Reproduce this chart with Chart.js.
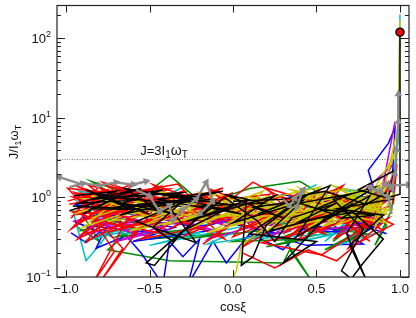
<!DOCTYPE html>
<html>
<head>
<meta charset="utf-8">
<script src="https://cdn.jsdelivr.net/npm/chart.js@4.4.1/dist/chart.umd.min.js"></script>
<style>
  body { margin: 0; background: #fff; }
  canvas { display: block; }
</style>
</head>
<body>
<canvas id="c" width="416" height="318"></canvas>
<script>
// axis ranges and ticks
const xRange = [-1.054, 1.054];
const yRange = [0.1, 260];
const xTicks = [-1.0, -0.5, 0.0, 0.5, 1.0];
const xTickLabels = ['\u22121.0', '\u22120.5', '0.0', '0.5', '1.0'];
const yDecades = [-1, 0, 1, 2];
const threshold = 3;

// trajectories as [cos xi, J/I1wT]
const redA = [[-0.98,0.82],[-0.62,1.12],[-0.93,0.48],[-0.38,1.28],[-0.86,1.18],[-0.27,0.64],[-0.74,0.37],[-0.16,0.88],[-0.96,1.02],[-0.5,0.43],[-0.06,1.32],[-0.63,0.56],[-0.83,0.09],[-0.71,0.21],[-0.91,0.9],[-0.33,1.48],[-0.13,0.53],[0.21,0.97],[-0.29,0.33],[0.12,1.56],[0.41,0.73],[0.04,0.39],[0.52,1.24],[0.31,0.36],[0.71,0.93],[0.44,0.51],[0.86,1.14],[0.61,0.31],[0.92,0.63],[0.53,0.19],[0.17,0.27],[0.77,0.56],[0.95,1.34],[0.81,0.41],[0.29,1.03],[-0.04,0.71],[-0.53,1.23],[-0.94,0.61],[-0.46,0.79],[-0.79,0.09],[-0.66,0.23],[-0.99,1.31],[-0.41,0.96],[-0.76,0.67],[-0.21,1.12],[0.09,0.59],[-0.31,0.49],[0.36,0.66],[0.66,1.42],[0.39,0.29],[0.84,0.76],[0.59,1.06],[0.96,0.46],[0.69,0.23],[0.89,0.91],[0.98,2.4],[0.96,0.82]];
const redB = [[-0.97,0.55],[-0.8,1.4],[-0.66,0.45],[-0.9,0.35],[-0.58,0.95],[-0.95,1.15],[-0.7,0.8],[-0.88,0.28],[-0.52,0.65],[-0.84,0.72],[-0.45,1.35],[-0.78,0.52],[-0.6,1.5],[-0.92,0.75],[-0.35,0.58],[-0.68,1.08],[-0.22,0.41],[-0.55,0.3],[-0.1,0.95],[-0.42,1.16],[0.02,0.5],[-0.18,0.26],[0.15,0.82],[-0.08,1.02],[0.28,0.45],[0.06,0.24],[0.38,1.1],[0.18,0.62],[0.55,0.35],[0.35,0.85],[0.72,0.62],[0.48,0.96],[0.82,0.28],[0.6,0.7],[0.9,1.22],[0.75,0.38],[0.93,0.55],[0.62,0.16],[0.45,0.22],[0.25,0.13],[0.06,0.2]];
const redC = [[-0.99,0.9],[-0.75,1.25],[-0.97,0.4],[-0.7,0.95],[-0.94,1.4],[-0.6,0.7],[-0.9,0.52],[-0.55,1.3],[-0.82,0.85],[-0.5,0.58],[-0.78,1.55],[-0.45,1.0],[-0.96,0.66],[-0.65,0.42],[-0.88,1.08],[-0.4,0.62],[-0.72,1.35],[-0.35,0.9],[-0.62,0.32],[-0.3,1.2],[-0.58,0.8],[-0.2,0.55],[-0.48,1.45],[-0.1,0.78],[-0.38,0.4],[0.0,1.15],[-0.26,0.68],[0.12,0.42],[-0.14,1.28],[0.26,0.6],[0.05,0.9],[0.4,0.48],[0.2,1.32],[0.55,0.8],[0.32,0.3],[0.68,1.05],[0.46,0.62],[0.8,0.5],[0.58,1.2],[0.9,0.38],[0.7,0.72],[0.95,0.95]];
const redD = [[-0.96,1.2],[-0.8,0.6],[-0.93,0.3],[-0.65,0.62],[-0.87,1.45],[-0.52,0.9],[-0.74,0.48],[-0.42,0.35],[-0.68,1.2],[-0.25,1.05],[-0.57,0.4],[-0.15,0.62],[-0.44,0.68],[-0.05,0.3],[-0.32,1.1],[0.08,0.66],[-0.2,0.85],[0.22,1.1],[0.0,0.32],[0.33,0.62],[0.12,1.05],[0.48,0.55],[0.26,0.82],[0.62,1.25],[0.42,0.36],[0.76,0.85],[0.52,1.0],[0.88,0.55],[0.66,0.48],[0.94,0.78]];
const yellowA = [[-0.95,0.62],[-0.7,0.9],[-0.9,0.42],[-0.55,0.75],[-0.85,1.05],[-0.48,0.55],[-0.2,0.88],[-0.62,0.38],[-0.05,0.68],[-0.35,1.05],[0.12,0.52],[-0.15,0.36],[0.25,0.94],[0.0,0.6],[0.42,0.78],[0.15,0.33],[0.55,1.15],[0.32,0.58],[0.7,0.82],[0.45,0.42],[0.85,1.02],[0.58,0.64],[0.92,0.48],[0.66,1.25],[0.38,0.98],[0.78,0.5],[0.5,0.72],[0.88,0.72],[0.62,0.45],[0.94,1.45],[0.72,1.1],[0.46,0.56],[0.2,0.74],[0.62,0.98],[0.3,0.4],[0.75,0.7],[0.9,1.6],[0.8,0.9],[0.97,3.5],[0.93,2.2],[0.99,8],[1.0,170]];
const yellowB = [[-0.92,0.95],[-0.6,1.12],[-0.88,0.7],[-0.45,0.85],[-0.75,0.5],[-0.3,0.7],[-0.1,1.1],[-0.4,0.46],[0.08,0.85],[-0.22,0.58],[0.18,1.2],[-0.02,0.45],[0.3,0.68],[0.1,1.0],[0.48,0.88],[0.22,0.56],[0.6,0.52],[0.4,1.3],[0.68,0.6],[0.52,0.4],[0.8,1.2],[0.56,0.85],[0.86,0.58],[0.35,0.75],[0.05,0.25],[0.02,0.12],[-0.02,0.08]];
const yellowC = [[-0.6,0.62],[-0.25,1.0],[-0.5,0.6],[0.0,0.95],[-0.3,0.52],[0.2,0.65],[0.45,1.05],[0.15,0.45],[0.65,0.75],[0.35,0.5],[0.78,1.0],[0.55,0.6],[0.9,0.82],[0.7,0.46],[0.96,1.1],[0.85,0.42],[0.92,1.8],[0.98,4.5],[1.0,12]];
const yellowD = [[-0.85,0.55],[-0.6,0.82],[-0.8,0.95],[-0.4,0.62],[-0.65,1.0],[-0.15,0.5],[-0.45,1.2],[0.05,0.72],[-0.25,0.42],[0.22,1.05],[0.0,0.55],[0.38,0.62],[0.12,0.88],[0.52,1.35],[0.28,0.48],[0.66,0.9],[0.42,0.66],[0.78,1.3],[0.55,0.44],[0.86,0.86],[0.62,1.1],[0.92,0.62],[0.7,0.58],[0.94,1.2],[0.8,0.68],[0.48,1.15],[0.25,0.62],[0.6,0.75],[0.35,1.25],[0.72,0.95],[0.9,1.1],[0.84,0.48]];
const yellowE = [[-0.7,0.7],[-0.3,0.85],[-0.55,0.45],[-0.1,0.75],[-0.35,0.6],[0.1,0.55],[-0.2,1.15],[0.3,0.82],[0.08,0.42],[0.45,0.92],[0.2,0.38],[0.58,0.68],[0.35,0.95],[0.7,1.0],[0.5,0.5],[0.82,0.78],[0.6,1.4],[0.9,0.95],[0.75,0.55],[0.95,0.7],[0.65,0.85],[0.4,0.55],[0.15,0.78],[-0.05,1.0],[-0.4,0.78]];
const magentaA = [[-0.96,0.5],[-0.75,0.62],[-0.92,0.32],[-0.6,0.5],[-0.85,0.8],[-0.4,0.4],[-0.7,0.28],[-0.2,0.62],[-0.5,0.75],[-0.05,0.45],[-0.3,0.95],[0.1,0.7],[-0.15,0.3],[0.3,0.55],[0.05,0.92],[0.45,0.46],[0.2,0.32],[0.6,0.78],[0.4,0.62],[0.75,0.44],[0.55,0.95],[0.85,0.65],[0.65,0.36],[0.92,0.9],[0.8,1.3],[0.95,2.5],[0.9,1.5],[0.97,9]];
const magentaB = [[-0.94,0.65],[-0.7,0.4],[-0.86,0.58],[-0.5,0.32],[-0.78,0.45],[-0.3,0.48],[-0.55,0.62],[-0.1,0.38],[-0.35,0.55],[0.15,0.48],[-0.05,0.58],[0.35,0.4],[0.1,0.55],[0.55,0.62],[0.3,0.42],[0.72,0.55],[0.5,0.38],[0.88,0.5],[0.7,0.78],[0.95,1.2]];
const blueA = [[-0.97,0.36],[-0.88,0.27],[-0.76,0.42],[-0.82,0.23],[-0.64,0.33],[-0.55,0.2],[-0.42,0.08],[-0.38,0.28],[-0.3,0.18],[-0.2,0.3],[-0.27,0.08],[-0.12,0.28],[-0.04,0.15],[0.1,0.35],[0.3,0.22],[0.5,0.6],[0.22,0.45],[0.64,0.4],[0.84,0.68],[0.72,0.3],[0.9,0.5],[0.81,2.2],[0.93,4.8],[0.97,7.5],[0.95,1.2],[0.6,0.85],[0.3,1.08],[-0.1,0.68],[-0.5,0.88],[-0.9,0.55],[-0.62,0.62],[-0.95,0.82],[-0.55,0.5],[-0.16,0.44],[0.25,0.74],[0.55,0.52],[0.78,0.26],[0.44,0.25],[0.1,0.4]];
const blueB = [[-0.95,0.5],[-0.72,0.32],[-0.9,0.45],[-0.5,0.36],[-0.8,0.6],[-0.35,0.42],[-0.6,0.28],[-0.15,0.38],[-0.45,0.55],[0.05,0.48],[-0.25,0.6],[0.25,0.36],[0.05,0.3],[0.45,0.5],[0.2,0.62],[0.68,0.36],[0.4,0.4],[0.85,0.42],[0.6,0.6],[0.92,0.35]];
const greenA = [[-0.95,0.45],[-0.8,0.28],[-0.9,0.6],[-0.6,0.4],[-0.75,0.22],[-0.38,0.16],[0.3,0.15],[0.34,0.22],[0.47,0.09],[0.3,0.32],[0.55,0.5],[0.2,0.45],[-0.1,0.6],[-0.38,1.9],[-0.55,1.0],[-0.85,1.6],[-0.65,0.9],[-0.25,0.75],[0.1,1.3],[0.4,1.6],[0.6,0.9],[0.45,0.35],[0.75,0.6],[0.6,0.28],[0.88,0.8],[0.7,1.1],[0.92,0.45],[0.85,0.25],[0.95,0.7],[0.98,3]];
const greenB = [[-0.92,0.38],[-0.65,0.55],[-0.85,0.5],[-0.45,0.48],[-0.7,0.32],[-0.25,0.4],[-0.5,0.3],[0.0,0.36],[-0.3,0.3],[0.25,0.4],[0.0,0.28],[0.45,0.3],[0.2,0.24],[0.65,0.4],[0.42,0.45],[0.8,0.35],[0.55,0.22],[0.9,0.55],[0.7,0.3],[0.96,1.6]];
const cyanA = [[-0.96,0.7],[-0.88,0.16],[-0.8,0.25],[-0.7,0.5],[-0.92,1.2],[-0.5,0.85],[-0.3,1.35],[-0.6,0.6],[-0.1,0.5],[-0.4,0.32],[0.2,0.7],[0.5,1.45],[0.3,0.9],[0.7,0.55],[0.55,0.28],[0.85,0.9],[0.65,1.3],[0.93,1.05],[0.96,2.0],[0.99,5],[1.0,200]];
const cyanB = [[-0.95,0.95],[-0.7,0.38],[-0.9,0.28],[-0.55,0.42],[-0.8,0.35],[-0.2,0.36],[-0.5,0.25],[0.1,0.45],[-0.15,0.26],[0.35,0.38],[0.1,0.3],[0.6,0.35],[0.4,0.28],[0.8,0.42],[0.62,0.25],[0.9,0.38]];
const blackA = [[-0.98,0.68],[-0.55,1.3],[-0.85,0.95],[-0.3,1.15],[-0.68,0.6],[-0.25,0.95],[-0.58,0.5],[-0.22,0.27],[-0.4,0.85],[-0.06,1.2],[-0.45,0.95],[-0.15,0.72],[-0.52,0.15],[-0.47,0.14],[-0.3,0.38],[0.08,0.95],[0.05,0.14],[0.12,0.18],[0.2,0.45],[0.45,1.1],[0.15,0.62],[0.58,1.4],[0.38,0.32],[0.72,0.85],[0.5,0.45],[0.82,1.05],[0.68,0.35],[0.8,0.09],[0.7,0.25],[0.9,0.6],[0.62,0.72],[0.95,0.95],[0.75,1.25],[0.97,2.2],[0.93,1.0],[1.0,1.1],[1.0,120]];
const blackB = [[-0.95,1.05],[-0.7,1.2],[-0.92,0.85],[-0.6,0.92],[-0.8,1.1],[-0.35,0.82],[-0.72,0.75],[-0.18,1.0],[-0.5,1.15],[0.0,0.8],[-0.28,0.5],[0.25,1.05],[0.0,0.48],[0.35,0.8],[0.1,0.35],[0.5,0.28],[0.3,0.15],[0.55,0.55],[0.85,1.35],[0.6,0.95],[0.78,0.4],[0.65,0.12],[0.75,0.08]];
const blackC = [[-0.96,0.78],[-0.62,0.72],[-0.88,1.25],[-0.5,0.62],[-0.75,0.95],[-0.42,1.25],[-0.66,0.85],[-0.32,0.6],[-0.55,0.82],[-0.1,0.92],[-0.38,1.05],[0.05,0.62],[-0.2,0.78],[0.18,0.85],[-0.05,1.1],[0.3,0.55],[0.12,0.75],[0.42,0.92],[0.22,0.38],[0.6,0.62],[0.4,0.85],[0.7,1.1],[0.5,0.72],[0.85,0.6],[0.65,0.55],[0.92,1.15],[0.8,0.82],[0.55,1.2],[0.3,0.95],[0.0,0.9]];
const blackD = [[-0.9,0.62],[-0.7,0.98],[-0.85,0.72],[-0.45,0.7],[-0.65,1.3],[-0.28,0.98],[-0.48,0.42],[-0.36,0.28],[-0.26,0.45],[-0.05,1.0],[0.15,0.5],[0.25,0.28],[0.35,0.55],[0.62,0.85],[0.4,0.5],[0.72,0.65],[0.9,0.3],[0.78,0.15],[0.7,0.09]];
const grayLeft = [[-0.98,1.35],[-0.9,1.5],[-0.8,1.42],[-0.7,1.55],[-0.6,1.45],[-0.52,1.6]];
const grayEdge = [[-0.9,1.45],[-1.04,1.8]];
const grayMid = [[-0.58,1.25],[-0.5,1.05],[-0.44,0.66],[-0.38,0.8],[-0.36,0.52],[-0.3,0.7],[-0.22,0.95],[-0.16,1.55],[-0.12,0.9],[-0.2,0.62]];
const grayCentre = [[0.3,0.95],[0.34,0.78],[0.37,0.98],[0.42,1.25],[0.38,0.75]];
const grayRight = [[0.95,0.62],[0.93,1.0],[0.82,1.35],[0.88,1.2],[0.92,1.5],[0.95,1.3],[0.97,2],[0.98,4],[0.99,9],[0.99,20]];
const grayOut = [[0.9,1.4],[1.05,1.45]];
const finalPoint = [[1.0,120]];

const pts = arr => arr.map(p => ({ x: p[0], y: p[1] }));

function arrowAngle(c) {
  const d = c.dataset.data, i = c.dataIndex;
  if (i === 0) return 0;
  const xs = c.chart.scales.x, ys = c.chart.scales.y;
  const dx = xs.getPixelForValue(d[i].x) - xs.getPixelForValue(d[i - 1].x);
  const dy = ys.getPixelForValue(d[i].y) - ys.getPixelForValue(d[i - 1].y);
  return Math.atan2(dy, dx) * 180 / Math.PI + 90;
}

function path(arr, color) {
  return { data: pts(arr), borderColor: color, borderWidth: 1.5, pointRadius: 0, showLine: true, fill: false };
}
function grayPath(arr) {
  return {
    data: pts(arr), borderColor: '#8c8c8c', backgroundColor: '#8c8c8c', borderWidth: 2.4, showLine: true,
    pointStyle: 'triangle', pointRadius: c => c.dataIndex === 0 ? 0 : 4.5, pointBorderWidth: 0,
    rotation: arrowAngle
  };
}

const RED = '#ff0000', YEL = '#c8c800', MAG = '#c800c8', BLU = '#0000ff', GRN = '#008c00', CYN = '#00c0c0', BLK = '#000';

// listed bottom to top
const datasets = [
  { data: [{ x: xRange[0], y: threshold }, { x: xRange[1], y: threshold }], borderColor: '#555', borderWidth: 0.8, borderDash: [1, 1.5], pointRadius: 0, showLine: true },
  path(greenA, GRN), path(cyanA, CYN), path(blueA, BLU), path(greenB, GRN),
  path(blueB, BLU), path(cyanB, CYN), path(magentaA, MAG), path(magentaB, MAG),
  path(redD, RED), path(redB, RED), path(yellowE, YEL), path(redC, RED),
  path(yellowB, YEL), path(redA, RED), path(yellowD, YEL), path(yellowA, YEL),
  path(yellowC, YEL), path(blackD, BLK), path(blackC, BLK), path(blackB, BLK), path(blackA, BLK),
  grayPath(grayLeft), grayPath(grayEdge), grayPath(grayMid),
  grayPath(grayCentre), grayPath(grayRight), grayPath(grayOut),
  { data: pts(finalPoint), pointRadius: 4, pointBackgroundColor: RED, pointBorderColor: '#000', pointBorderWidth: 1.5, showLine: false, clip: false }
];
datasets.forEach((d, i) => { d.order = -i; });

const FONT = '"Liberation Sans", Arial, sans-serif';

const decorations = {
  id: 'decorations',
  afterDraw(chart) {
    const ctx = chart.ctx, a = chart.chartArea;
    const xs = chart.scales.x, ys = chart.scales.y;
    ctx.save();
    ctx.strokeStyle = '#222';
    ctx.lineWidth = 1.2;
    ctx.strokeRect(a.left, a.top, a.right - a.left, a.bottom - a.top);

    ctx.lineWidth = 1;
    ctx.beginPath();
    xTicks.forEach(v => {
      const px = Math.round(xs.getPixelForValue(v)) + 0.5;
      ctx.moveTo(px, a.bottom); ctx.lineTo(px, a.bottom - 7);
      ctx.moveTo(px, a.top); ctx.lineTo(px, a.top + 7);
    });
    yDecades.forEach(e => {
      for (let m = 1; m <= 9; m++) {
        const v = m * Math.pow(10, e);
        if (v < yRange[0] || v > yRange[1]) continue;
        const py = Math.round(ys.getPixelForValue(v)) + 0.5;
        const len = m === 1 ? 8 : 4;
        ctx.moveTo(a.left, py); ctx.lineTo(a.left + len, py);
        ctx.moveTo(a.right, py); ctx.lineTo(a.right - len, py);
      }
    });
    ctx.stroke();

    ctx.fillStyle = '#111';
    ctx.font = '13px ' + FONT;
    ctx.textAlign = 'center';
    ctx.textBaseline = 'alphabetic';
    xTicks.forEach((v, i) => ctx.fillText(xTickLabels[i], xs.getPixelForValue(v), 293));

    yDecades.forEach(e => {
      const py = ys.getPixelForValue(Math.pow(10, e));
      const exp = e < 0 ? '\u2212' + (-e) : String(e);
      ctx.font = '9px ' + FONT;
      const ew = ctx.measureText(exp).width;
      ctx.textAlign = 'right';
      ctx.fillText(exp, 51, py - 1);
      ctx.font = '13px ' + FONT;
      ctx.fillText('10', 51 - ew, py + 5);
    });

    ctx.textAlign = 'center';
    ctx.font = '13px ' + FONT;
    ctx.fillText('cos\u03BE', xs.getPixelForValue(0), 311);

    // y axis title
    ctx.save();
    ctx.translate(18, 142);
    ctx.rotate(-Math.PI / 2);
    drawRich(ctx, [['J/I', 13, 0], ['1', 9, 3], ['\u03C9', 13, 0], ['T', 9, 3]], 0, 0, 'center');
    ctx.restore();

    // threshold label
    drawRich(ctx, [['J=3I', 13, 0], ['1', 10, 3], ['\u03C9', 14, 0], ['T', 10, 3]], 164, ys.getPixelForValue(threshold) - 5, 'center');
    ctx.restore();
  }
};

function drawRich(ctx, parts, x, y, align) {
  let total = 0;
  parts.forEach(p => { ctx.font = p[1] + 'px ' + FONT; total += ctx.measureText(p[0]).width; });
  let cx = align === 'center' ? x - total / 2 : x;
  ctx.textAlign = 'left';
  parts.forEach(p => {
    ctx.font = p[1] + 'px ' + FONT;
    ctx.fillText(p[0], cx, y + p[2]);
    cx += ctx.measureText(p[0]).width;
  });
}

new Chart(document.getElementById('c'), {
  type: 'scatter',
  data: { datasets: datasets },
  options: {
    responsive: false,
    devicePixelRatio: 1,
    animation: false,
    layout: { padding: { left: 57, right: 7, top: 5, bottom: 41 } },
    plugins: { legend: { display: false }, tooltip: { enabled: false } },
    scales: {
      x: { type: 'linear', min: xRange[0], max: xRange[1], display: false },
      y: { type: 'logarithmic', min: yRange[0], max: yRange[1], display: false }
    }
  },
  plugins: [decorations]
});
</script>
</body>
</html>
